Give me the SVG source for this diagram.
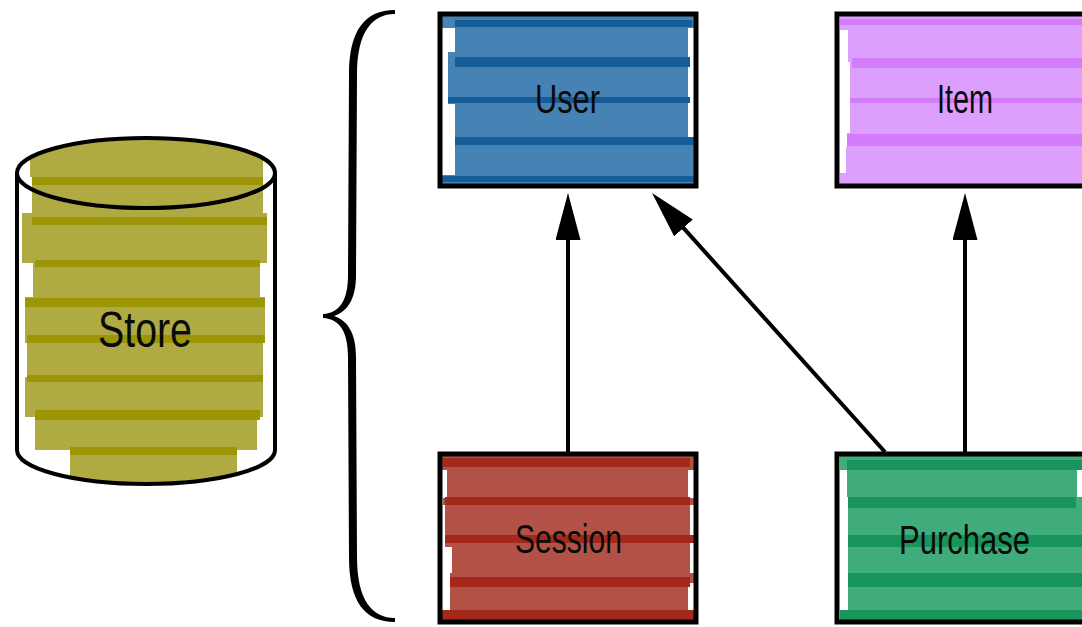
<svg xmlns="http://www.w3.org/2000/svg" width="1082" height="627" viewBox="0 0 1082 627">
  <style>
    .box { fill: none; stroke: #000; stroke-width: 5; }
    .outline { fill: none; stroke: #000; stroke-width: 4; }
    .label { font-family: "Liberation Sans", Arial, sans-serif; fill: #0a0a0a; }
    .edge { stroke: #000; stroke-width: 4; fill: none; marker-end: url(#head); }
    .user-base { fill: #4682b4; } .user-dark { fill: #145d99; }
    .item-base { fill: #dd9ffd; } .item-dark { fill: #d47dfb; }
    .session-base { fill: #b25247; } .session-dark { fill: #a4291a; }
    .purchase-base { fill: #40ab7b; } .purchase-dark { fill: #19955b; }
    .store-base { fill: #b0aa42; } .store-dark { fill: #9c9606; }
  </style>
  <defs>
    <marker id="head" markerUnits="userSpaceOnUse" markerWidth="48" markerHeight="26" refX="27" refY="12.5" orient="auto">
      <path d="M0,0 L47,12.5 L0,25 Z" fill="#000"/>
    </marker>
    <clipPath id="clip-store">
      <path d="M17,173 A129,35 0 0,1 275,173 L275,450 A129,34 0 0,1 17,450 Z"/>
    </clipPath>
  </defs>

  <rect width="1082" height="627" fill="#fff"/>

  <!-- Store cylinder -->
  <g id="store">
    <g clip-path="url(#clip-store)">
      <rect class="store-base" x="30" y="138" width="233" height="39"/>
      <rect class="store-base" x="32" y="177" width="231" height="36"/>
      <rect class="store-base" x="22" y="213" width="245" height="50"/>
      <rect class="store-base" x="33" y="263" width="227" height="34"/>
      <rect class="store-base" x="25" y="297" width="240" height="46"/>
      <rect class="store-base" x="27" y="343" width="236" height="34"/>
      <rect class="store-base" x="25" y="377" width="238" height="40"/>
      <rect class="store-base" x="35" y="417" width="222" height="33"/>
      <rect class="store-base" x="70" y="450" width="167" height="37"/>
      <rect class="store-dark" x="32" y="177" width="231" height="8"/>
      <rect class="store-dark" x="32" y="217" width="235" height="8"/>
      <rect class="store-dark" x="35" y="260" width="225" height="7"/>
      <rect class="store-dark" x="25" y="298" width="240" height="9"/>
      <rect class="store-dark" x="27" y="335" width="238" height="8"/>
      <rect class="store-dark" x="27" y="375" width="236" height="7"/>
      <rect class="store-dark" x="35" y="410" width="225" height="10"/>
      <rect class="store-dark" x="70" y="447" width="167" height="8"/>
    </g>
    <ellipse class="outline" cx="146" cy="173" rx="129" ry="35"/>
    <path class="outline" d="M17,173 L17,450 A129,34 0 0,0 275,450 L275,173"/>
    <text class="label" x="98" y="347" font-size="50" textLength="94" lengthAdjust="spacingAndGlyphs">Store</text>
  </g>

  <!-- Brace grouping the entities -->
  <path id="brace" fill="#000" d="M395,10 C365,10 349,30 349,75 L348,275 C348,300 340,313 323,314 L323,318 C340,319 348,332 348,357 L349,557 C349,602 365,622 395,622 L395,618 C372,618 357,600 357,557 L356,357 C356,335 349,321 334,316 C349,311 356,297 356,275 L357,75 C357,32 372,14 395,14 Z"/>

  <!-- User -->
  <g id="user">
    <rect class="user-base" x="442" y="16" width="252" height="12"/>
    <rect class="user-base" x="455" y="28" width="233" height="24"/>
    <rect class="user-base" x="448" y="52" width="240" height="52"/>
    <rect class="user-base" x="455" y="104" width="233" height="36"/>
    <rect class="user-base" x="455" y="140" width="239" height="35"/>
    <rect class="user-base" x="442" y="175" width="252" height="9"/>
    <rect class="user-dark" x="455" y="20" width="237" height="7"/>
    <rect class="user-dark" x="455" y="57" width="235" height="10"/>
    <rect class="user-dark" x="448" y="97" width="242" height="6"/>
    <rect class="user-dark" x="455" y="137" width="239" height="8"/>
    <rect class="user-dark" x="442" y="176" width="252" height="6"/>
    <rect class="box" x="440" y="14" width="256" height="172"/>
    <text class="label" x="535" y="113" font-size="41" textLength="65" lengthAdjust="spacingAndGlyphs">User</text>
  </g>

  <!-- Item -->
  <g id="item">
    <rect class="item-base" x="840" y="16" width="242" height="14"/>
    <rect class="item-base" x="848" y="30" width="234" height="32"/>
    <rect class="item-base" x="850" y="62" width="232" height="71"/>
    <rect class="item-base" x="847" y="133" width="235" height="14"/>
    <rect class="item-base" x="846" y="147" width="236" height="26"/>
    <rect class="item-base" x="840" y="173" width="242" height="11"/>
    <rect class="item-dark" x="840" y="19" width="242" height="6"/>
    <rect class="item-dark" x="852" y="58" width="230" height="10"/>
    <rect class="item-dark" x="850" y="98" width="232" height="5"/>
    <rect class="item-dark" x="847" y="134" width="235" height="12"/>
    <rect class="box" x="837" y="14" width="260" height="172"/>
    <text class="label" x="937" y="113" font-size="41" textLength="56" lengthAdjust="spacingAndGlyphs">Item</text>
  </g>

  <!-- Session -->
  <g id="session">
    <rect class="session-base" x="442" y="456" width="252" height="14"/>
    <rect class="session-base" x="447" y="470" width="241" height="28"/>
    <rect class="session-base" x="443" y="498" width="251" height="7"/>
    <rect class="session-base" x="445" y="505" width="245" height="42"/>
    <rect class="session-base" x="452" y="547" width="238" height="26"/>
    <rect class="session-base" x="450" y="573" width="244" height="10"/>
    <rect class="session-base" x="450" y="583" width="238" height="27"/>
    <rect class="session-base" x="442" y="610" width="252" height="10"/>
    <rect class="session-dark" x="443" y="458" width="247" height="9"/>
    <rect class="session-dark" x="445" y="497" width="245" height="8"/>
    <rect class="session-dark" x="445" y="535" width="249" height="8"/>
    <rect class="session-dark" x="450" y="577" width="240" height="10"/>
    <rect class="session-dark" x="442" y="610" width="252" height="10"/>
    <rect class="box" x="440" y="454" width="256" height="168"/>
    <text class="label" x="515" y="553" font-size="41" textLength="107" lengthAdjust="spacingAndGlyphs">Session</text>
  </g>

  <!-- Purchase -->
  <g id="purchase">
    <rect class="purchase-base" x="840" y="456" width="242" height="14"/>
    <rect class="purchase-base" x="847" y="470" width="230" height="27"/>
    <rect class="purchase-base" x="848" y="497" width="234" height="113"/>
    <rect class="purchase-base" x="840" y="610" width="242" height="10"/>
    <rect class="purchase-dark" x="847" y="460" width="235" height="10"/>
    <rect class="purchase-dark" x="848" y="497" width="228" height="11"/>
    <rect class="purchase-dark" x="848" y="535" width="234" height="12"/>
    <rect class="purchase-dark" x="848" y="573" width="234" height="14"/>
    <rect class="purchase-dark" x="840" y="610" width="242" height="10"/>
    <rect class="box" x="837" y="454" width="260" height="168"/>
    <text class="label" x="899" y="554" font-size="41" textLength="131" lengthAdjust="spacingAndGlyphs">Purchase</text>
  </g>

  <!-- Connectors -->
  <g id="connectors">
    <line class="edge" x1="568" y1="452" x2="568" y2="213"/>
    <line class="edge" x1="885" y1="452" x2="665.4" y2="207.9"/>
    <line class="edge" x1="965" y1="452" x2="965" y2="213"/>
  </g>
</svg>
